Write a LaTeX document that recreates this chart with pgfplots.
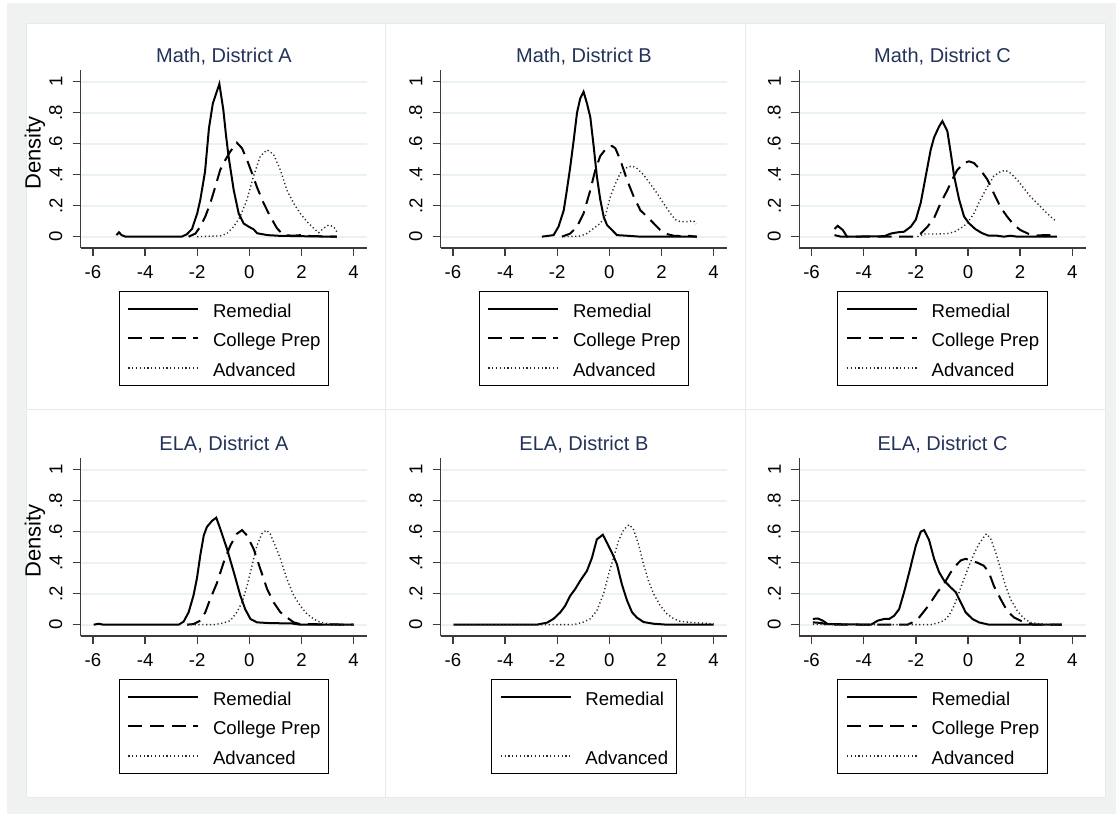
\documentclass[border=0pt]{standalone}
\usepackage{fontspec}
\setmainfont{Liberation Sans}
\usepackage{pgfplots}
\pgfplotsset{compat=1.18}

\definecolor{bgc}{HTML}{F0F2F2}
\definecolor{gridc}{HTML}{EAF2F3}
\definecolor{panelc}{HTML}{E4EBEC}
\definecolor{titlec}{HTML}{24335A}
\definecolor{axc}{HTML}{3C3C3C}

\newcommand\tickfont{\fontsize{9.3}{11}\selectfont}

\pgfplotsset{
  panel/.style={
    scale only axis, width=143.25pt, height=89pt,
    xmin=-6.47, xmax=4.52, ymin=-0.073, ymax=1.075,
    axis lines=left, axis line style={-, draw=axc, line width=0.7pt},
    tick style={draw=axc, line width=0.7pt},
    major tick length=4pt, tick align=outside,
    xtick={-6,-4,-2,0,2,4}, xticklabels={-6,-4,-2,0,2,4},
    ytick={0,0.2,0.4,0.6,0.8,1}, yticklabels={0,.2,.4,.6,.8,1},
    ticklabel style={font=\tickfont},
    yticklabel style={rotate=90, anchor=south, inner sep=0pt},
    xticklabel style={anchor=north, inner sep=0pt},
    xticklabel shift=4.5pt, yticklabel shift=5pt,
    ymajorgrids, major grid style={draw=gridc, line width=1pt},
    clip=false,
    every axis title/.style={at={(0.5,1)}, anchor=base, yshift=3.7pt,
      font=\fontsize{10}{12}\selectfont, text=titlec, inner sep=0pt},
    legend cell align=left,
    legend style={at={(0.5,0)}, anchor=north, yshift=-21.5pt,
      draw=black, line width=0.5pt, fill=white,
      inner xsep=4pt, inner ysep=4.5pt, row sep=6.35pt, column sep=6.85pt,
      font=\tickfont,
      nodes={inner sep=0pt, text height=8.4pt, text depth=0pt}},
    legend image code/.code={\draw[#1] (0pt,0pt) -- (35pt,0pt);},
  },
  rem/.style={black, line width=1pt},
  cp/.style={black, line width=1pt, dash pattern=on 7pt off 3.8pt},
  adv/.style={black!85, line width=0.7pt, dash pattern=on 0.6pt off 1.3pt},
}

\newcommand\density{\node[rotate=90, anchor=base, inner sep=0pt, font=\fontsize{11}{13}\selectfont]
  at ([xshift=-20.1pt]rel axis cs:0,0.534) {Density};}

\begin{document}
\begin{tikzpicture}
\path[use as bounding box, fill=white] (0,0) rectangle (558pt,407pt);
\fill[bgc] (3.5pt,0pt) rectangle (558pt,405.5pt);
\foreach \xa/\xb in {13/192.5, 192.5/372.5, 372.5/552.5} {
  \foreach \ya/\yb in {202/395, 8/202} {
    \filldraw[fill=white, draw=panelc, line width=0.5pt] (\xa pt,\ya pt) rectangle (\xb pt,\yb pt);
  }
}

% Math, District A
\begin{axis}[panel, at={(40.35pt,283pt)}, anchor=south west, title={Math, District A}]
\addplot[rem] coordinates {(-5.1,0.01) (-5.0,0.028) (-4.9,0.01) (-4.75,0) (-2.6,0) (-2.4,0.015) (-2.2,0.05) (-2.0,0.15) (-1.88,0.24) (-1.7,0.42) (-1.55,0.70) (-1.4,0.86) (-1.3,0.91) (-1.15,0.985) (-1.0,0.82) (-0.9,0.66) (-0.8,0.52) (-0.6,0.30) (-0.41,0.15) (-0.22,0.085) (-0.03,0.065) (0.16,0.048) (0.3,0.022) (0.7,0.01) (1.2,0.005) (1.8,0.004) (2.3,0.002) (3.36,0)};
\addlegendentry{Remedial}
\addplot[cp] coordinates {(-2.33,0) (-2.07,0.02) (-1.88,0.065) (-1.69,0.13) (-1.5,0.215) (-1.31,0.32) (-1.12,0.43) (-0.92,0.495) (-0.73,0.55) (-0.48,0.606) (-0.28,0.57) (-0.09,0.495) (0.1,0.41) (0.29,0.32) (0.55,0.215) (0.8,0.13) (1.06,0.054) (1.31,0.01) (1.7,0.006) (1.95,0.01) (2.34,0.004) (3.36,0)};
\addlegendentry{College Prep\hspace{4.3pt}}
\addplot[adv] coordinates {(-2.0,0) (-1.5,0.003) (-1.12,0.005) (-0.86,0.02) (-0.6,0.065) (-0.35,0.13) (-0.09,0.24) (0.16,0.39) (0.42,0.52) (0.68,0.56) (0.93,0.53) (1.19,0.43) (1.44,0.30) (1.7,0.215) (1.95,0.15) (2.21,0.097) (2.47,0.054) (2.66,0.026) (2.85,0.054) (3.04,0.075) (3.23,0.065) (3.36,0.03)};
\addlegendentry{Advanced}
\density
\end{axis}

% Math, District B
\begin{axis}[panel, at={(220.35pt,283pt)}, anchor=south west, title={Math, District B}]
\addplot[rem] coordinates {(-2.59,0) (-2.14,0.01) (-1.95,0.065) (-1.75,0.17) (-1.63,0.30) (-1.5,0.45) (-1.37,0.62) (-1.24,0.80) (-1.12,0.89) (-0.99,0.935) (-0.86,0.86) (-0.73,0.77) (-0.6,0.58) (-0.48,0.39) (-0.35,0.24) (-0.22,0.13) (-0.09,0.075) (0.1,0.043) (0.29,0.01) (0.68,0.006) (1.19,0) (3.36,0)};
\addlegendentry{Remedial}
\addplot[cp] coordinates {(-1.82,0) (-1.5,0.02) (-1.24,0.065) (-0.99,0.15) (-0.73,0.30) (-0.54,0.43) (-0.35,0.52) (-0.09,0.576) (0.1,0.585) (0.23,0.57) (0.42,0.495) (0.68,0.365) (0.93,0.26) (1.19,0.17) (1.44,0.13) (1.7,0.086) (1.95,0.043) (2.21,0.017) (2.47,0.006) (2.72,0.004) (2.98,0.006) (3.36,0)};
\addlegendentry{College Prep\hspace{4.3pt}}
\addplot[adv] coordinates {(-1.75,0) (-1.12,0.004) (-0.86,0.02) (-0.6,0.054) (-0.35,0.086) (-0.16,0.13) (0.04,0.26) (0.23,0.34) (0.42,0.41) (0.68,0.447) (0.87,0.456) (1.06,0.44) (1.31,0.40) (1.57,0.34) (1.83,0.28) (2.08,0.215) (2.34,0.15) (2.53,0.11) (2.72,0.097) (2.98,0.097) (3.23,0.103) (3.33,0.082)};
\addlegendentry{Advanced}
\end{axis}

% Math, District C
\begin{axis}[panel, at={(399.65pt,283pt)}, anchor=south west, title={Math, District C}]
\addplot[rem] coordinates {(-5.12,0.05) (-5.0,0.07) (-4.8,0.043) (-4.64,0) (-3.21,0.003) (-2.96,0.02) (-2.7,0.028) (-2.45,0.032) (-2.19,0.065) (-2.0,0.11) (-1.81,0.22) (-1.62,0.39) (-1.43,0.56) (-1.3,0.64) (-1.11,0.71) (-0.98,0.745) (-0.79,0.68) (-0.66,0.54) (-0.53,0.39) (-0.34,0.24) (-0.15,0.13) (0.04,0.086) (0.29,0.048) (0.55,0.022) (0.8,0.006) (1.12,0.006) (1.38,0) (1.63,0.006) (1.89,0) (3.41,0)};
\addlegendentry{Remedial}
\addplot[cp] coordinates {(-5.12,0.01) (-4.87,0) (-2.06,0) (-1.81,0.02) (-1.55,0.065) (-1.3,0.12) (-1.04,0.22) (-0.79,0.30) (-0.6,0.37) (-0.41,0.43) (-0.15,0.475) (0.04,0.486) (0.23,0.475) (0.48,0.43) (0.74,0.37) (0.99,0.28) (1.25,0.19) (1.5,0.13) (1.76,0.076) (2.01,0.043) (2.27,0.022) (2.52,0.006) (2.9,0.01) (3.29,0.01) (3.41,0.004)};
\addlegendentry{College Prep\hspace{4.3pt}}
\addplot[adv] coordinates {(-1.94,0) (-1.68,0.017) (-1.17,0.017) (-0.79,0.02) (-0.53,0.03) (-0.28,0.054) (-0.03,0.086) (0.23,0.15) (0.48,0.24) (0.74,0.32) (0.99,0.39) (1.25,0.42) (1.44,0.428) (1.63,0.41) (1.89,0.367) (2.14,0.313) (2.39,0.26) (2.65,0.216) (2.9,0.173) (3.16,0.13) (3.35,0.104)};
\addlegendentry{Advanced}
\end{axis}

% ELA, District A
\begin{axis}[panel, at={(40.35pt,89pt)}, anchor=south west, title={ELA, District A}]
\addplot[rem] coordinates {(-5.97,0) (-5.78,0.006) (-5.6,0) (-2.71,0) (-2.52,0.02) (-2.33,0.08) (-2.14,0.19) (-2.01,0.3) (-1.88,0.45) (-1.75,0.575) (-1.63,0.63) (-1.43,0.67) (-1.27,0.69) (-1.12,0.62) (-0.86,0.49) (-0.6,0.34) (-0.35,0.19) (-0.16,0.1) (0.04,0.037) (0.29,0.015) (0.68,0.011) (1.19,0.009) (1.57,0.009) (1.95,0) (4.0,0)};
\addlegendentry{Remedial}
\addplot[cp] coordinates {(-2.39,0) (-2.14,0.004) (-1.88,0.026) (-1.69,0.08) (-1.5,0.166) (-1.24,0.27) (-0.99,0.40) (-0.73,0.51) (-0.48,0.586) (-0.28,0.61) (-0.09,0.575) (0.16,0.49) (0.42,0.36) (0.68,0.23) (0.93,0.144) (1.19,0.08) (1.44,0.047) (1.7,0.015) (1.95,0.004) (4.0,0)};
\addlegendentry{College Prep\hspace{4.3pt}}
\addplot[adv] coordinates {(-2.39,0) (-1.37,0) (-0.99,0.011) (-0.73,0.026) (-0.48,0.08) (-0.28,0.144) (-0.09,0.25) (0.1,0.38) (0.29,0.51) (0.48,0.586) (0.65,0.61) (0.8,0.586) (0.99,0.51) (1.19,0.425) (1.44,0.295) (1.7,0.188) (1.95,0.123) (2.21,0.069) (2.47,0.037) (2.72,0.015) (3.1,0.004) (3.62,0) (4.0,0)};
\addlegendentry{Advanced}
\density
\end{axis}

% ELA, District B
\begin{axis}[panel, at={(220.35pt,89pt)}, anchor=south west, title={ELA, District B}]
\addplot[rem] coordinates {(-5.97,0) (-2.78,0) (-2.39,0.013) (-2.14,0.038) (-1.88,0.08) (-1.69,0.123) (-1.5,0.187) (-1.31,0.23) (-1.12,0.283) (-0.86,0.347) (-0.67,0.43) (-0.48,0.55) (-0.25,0.58) (-0.09,0.528) (0.1,0.464) (0.29,0.39) (0.48,0.26) (0.68,0.155) (0.87,0.08) (1.06,0.045) (1.31,0.017) (1.7,0.006) (2.21,0) (4.0,0)};
\addlegendentry{Remedial}
\addlegendimage{empty legend}
\addlegendentry{}
\addplot[adv] coordinates {(-5.97,0) (-1.37,0) (-0.99,0.017) (-0.73,0.038) (-0.48,0.09) (-0.22,0.2) (-0.03,0.325) (0.16,0.43) (0.35,0.54) (0.55,0.613) (0.76,0.645) (0.93,0.613) (1.12,0.517) (1.31,0.39) (1.5,0.283) (1.7,0.198) (1.95,0.123) (2.21,0.07) (2.47,0.038) (2.72,0.021) (3.23,0.013) (4.0,0.006)};
\addlegendentry{Advanced\hspace{2pt}}
\end{axis}

% ELA, District C
\begin{axis}[panel, at={(399.65pt,89pt)}, anchor=south west, title={ELA, District C}]
\addplot[rem] coordinates {(-5.95,0.037) (-5.76,0.04) (-5.57,0.026) (-5.38,0.004) (-3.72,0) (-3.46,0.026) (-3.21,0.037) (-3.02,0.037) (-2.83,0.058) (-2.64,0.1) (-2.45,0.21) (-2.25,0.34) (-2.0,0.51) (-1.81,0.6) (-1.68,0.61) (-1.49,0.545) (-1.3,0.425) (-1.11,0.34) (-0.92,0.285) (-0.66,0.24) (-0.47,0.21) (-0.28,0.145) (-0.09,0.08) (0.17,0.037) (0.42,0.015) (0.8,0) (3.6,0)};
\addlegendentry{Remedial}
\addplot[cp] coordinates {(-5.95,0.015) (-5.63,0.011) (-5.38,0) (-2.32,0) (-2.13,0.015) (-1.87,0.047) (-1.62,0.1) (-1.43,0.144) (-1.17,0.21) (-0.92,0.263) (-0.66,0.338) (-0.47,0.38) (-0.28,0.414) (-0.09,0.425) (0.1,0.414) (0.36,0.40) (0.61,0.38) (0.8,0.338) (0.99,0.252) (1.25,0.166) (1.5,0.09) (1.76,0.047) (2.01,0.026) (2.27,0.011) (2.52,0) (3.6,0)};
\addlegendentry{College Prep\hspace{4.3pt}}
\addplot[adv] coordinates {(-5.95,0.004) (-5.5,0) (-1.43,0) (-1.17,0.011) (-0.92,0.026) (-0.73,0.058) (-0.53,0.123) (-0.34,0.21) (-0.15,0.295) (0.04,0.38) (0.23,0.457) (0.42,0.52) (0.61,0.565) (0.71,0.586) (0.87,0.554) (1.06,0.468) (1.25,0.36) (1.44,0.252) (1.63,0.166) (1.89,0.09) (2.14,0.041) (2.39,0.015) (2.78,0.004) (3.6,0)};
\addlegendentry{Advanced}
\end{axis}
\end{tikzpicture}
\end{document}
